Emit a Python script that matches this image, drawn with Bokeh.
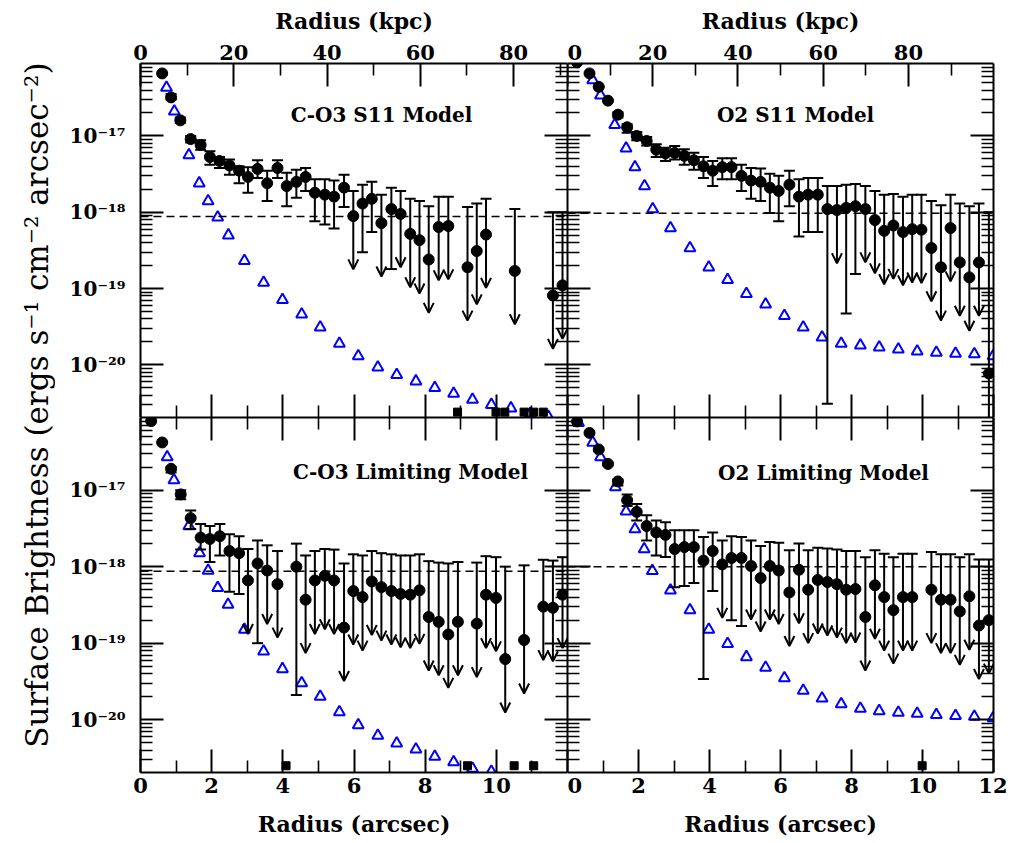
import math
from bokeh.plotting import figure
from bokeh.models import (Range1d, LogScale, LinearAxis, FixedTicker, CustomJSTickFormatter,
                          ColumnDataSource, Arrow, OpenHead, Span, Label)
from bokeh.layouts import row, column
from bokeh.embed import file_html
from bokeh.resources import INLINE

FONT = "DejaVu Serif"

# ---------------- axis settings ----------------
Y_MIN, Y_MAX = 2.04e-21, 8.9e-17
Y_MAJOR = [1e-20, 1e-19, 1e-18, 1e-17]
Y_MINOR = [k * 10.0 ** e for e in range(-22, -16) for k in range(2, 10)]
X_MAJOR = [0, 2, 4, 6, 8, 10, 12]
X_MINOR = [1, 3, 5, 7, 9, 11]
KPC_MAJOR = [0, 20, 40, 60, 80, 100]
KPC_MINOR = [10, 30, 50, 70, 90]
KPC_PER_ARCSEC_LEFT = 7.63
KPC_PER_ARCSEC_RIGHT = 8.33
UL_ARROW_FACTOR = 0.2

# ---------------- C-O3 S11 Model (top left) ----------------
tl_det_r = [0.61, 0.86, 1.12, 1.41, 1.69, 1.95, 2.22, 2.50, 2.77, 3.02, 3.29, 3.56, 3.85, 4.11,
            4.38, 4.64, 4.90, 5.18, 5.44, 5.72, 6.24, 6.50, 7.05]
tl_det_v = [6.6e-17, 3.2e-17, 1.6e-17, 9.1e-18, 7.6e-18, 5.3e-18, 4.7e-18, 4.1e-18, 3.5e-18, 2.9e-18,
            3.7e-18, 2.4e-18, 3.8e-18, 2.2e-18, 2.5e-18, 2.9e-18, 1.8e-18, 1.7e-18, 1.6e-18, 2.1e-18,
            1.3e-18, 1.5e-18, 1.1e-18]
tl_det_hi = [6.6e-17, 3.55e-17, 1.74e-17, 1.0e-17, 8.8e-18, 6.3e-18, 5.3e-18, 4.9e-18, 4.0e-18, 3.9e-18,
             4.8e-18, 3.5e-18, 4.8e-18, 3.3e-18, 3.6e-18, 3.8e-18, 2.7e-18, 2.7e-18, 2.6e-18, 3.1e-18,
             2.3e-18, 2.5e-18, 2.1e-18]
tl_det_lo = [6.6e-17, 3.0e-17, 1.49e-17, 8.2e-18, 6.6e-18, 4.2e-18, 3.8e-18, 3.1e-18, 2.4e-18, 1.8e-18,
             2.8e-18, 1.4e-18, 2.8e-18, 1.2e-18, 1.55e-18, 1.9e-18, 7.6e-19, 6.9e-19, 6.1e-19, 1.17e-18,
             3.0e-19, 5.5e-19, 1.8e-19]
tl_ul_r = [5.98, 6.77, 7.31, 7.58, 7.84, 8.10, 8.38, 8.65, 9.19, 9.45, 9.71, 10.52, 11.59, 11.86]
tl_ul_v = [8.9e-19, 7.2e-19, 9.5e-19, 5.2e-19, 4.3e-19, 2.4e-19, 6.4e-19, 6.6e-19, 1.9e-19, 3.1e-19,
           5.1e-19, 1.7e-19, 8.1e-20, 1.1e-19]
tl_ul_hi = [1.9e-18, 1.7e-18, 1.9e-18, 1.5e-18, 1.4e-18, 1.2e-18, 1.6e-18, 1.6e-18, 1.17e-18, 1.3e-18,
            1.5e-18, 1.1e-18, 1.0e-18, 1.0e-18]
tl_mod_r = [0.73, 0.95, 1.36, 1.65, 1.90, 2.17, 2.47, 2.92, 3.46, 3.99, 4.53, 5.05, 5.59, 6.12, 6.67,
            7.20, 7.74, 8.27, 8.80, 9.33, 9.86, 10.41, 10.95, 11.46]
tl_mod_v = [4.3e-17, 2.1e-17, 5.6e-18, 2.4e-18, 1.4e-18, 8.6e-19, 5.0e-19, 2.3e-19, 1.2e-19, 7.1e-20,
            4.6e-20, 3.1e-20, 1.9e-20, 1.3e-20, 9.3e-21, 7.4e-21, 6.1e-21, 5.0e-21, 4.2e-21, 3.5e-21,
            3.0e-21, 2.7e-21, 2.3e-21, 2.1e-21]
tl_neg_r = [8.91, 9.99, 10.24, 10.78, 11.05, 11.32]
tl_neg_v = [2.4e-21, 2.4e-21, 2.4e-21, 2.4e-21, 2.4e-21, 2.4e-21]
tl_limit = 8.8e-19

# ---------------- O2 S11 Model (top right) ----------------
tr_det_r = [0.27, 0.62, 0.88, 1.14, 1.42, 1.68, 1.95, 2.23, 2.50, 2.76, 3.02, 3.29, 3.56, 3.83, 4.09,
            4.36, 4.62, 4.90, 5.17, 5.44, 5.70, 5.95, 6.25, 6.52, 6.78, 7.05, 7.32, 7.85, 8.11, 11.87]
tr_det_v = [9.2e-17, 6.6e-17, 4.4e-17, 2.9e-17, 1.9e-17, 1.3e-17, 1.0e-17, 8.6e-18, 6.6e-18, 5.9e-18,
            6.0e-18, 5.5e-18, 4.8e-18, 4.0e-18, 3.5e-18, 3.9e-18, 3.9e-18, 3.0e-18, 2.6e-18, 2.5e-18,
            2.1e-18, 1.9e-18, 2.3e-18, 1.6e-18, 1.7e-18, 1.7e-18, 1.1e-18, 1.14e-18, 1.2e-18, 7.7e-21]
tr_det_hi = [9.2e-17, 6.6e-17, 4.4e-17, 2.9e-17, 2.05e-17, 1.42e-17, 1.13e-17, 9.7e-18, 7.8e-18, 7.0e-18,
             7.4e-18, 6.7e-18, 6.0e-18, 5.3e-18, 4.7e-18, 5.1e-18, 5.1e-18, 4.2e-18, 3.8e-18, 3.75e-18,
             3.2e-18, 3.0e-18, 3.5e-18, 2.7e-18, 2.8e-18, 2.8e-18, 2.2e-18, 2.3e-18, 2.35e-18, 1.0e-18]
tr_det_lo = [9.2e-17, 6.6e-17, 4.4e-17, 2.9e-17, 1.75e-17, 1.1e-17, 8.8e-18, 7.5e-18, 5.3e-18, 4.7e-18,
             4.9e-18, 4.2e-18, 3.6e-18, 2.8e-18, 2.2e-18, 2.7e-18, 2.7e-18, 1.9e-18, 1.5e-18, 1.4e-18,
             9.8e-19, 7.6e-19, 1.2e-18, 4.8e-19, 5.5e-19, 5.5e-19, 3.1e-21, 4.7e-20, 1.55e-19, 1.0e-22]
tr_ul_r = [7.59, 8.39, 8.66, 8.92, 9.18, 9.45, 9.71, 9.97, 10.25, 10.52, 10.79, 11.05, 11.32, 11.59]
tr_ul_v = [1.07e-18, 1.1e-18, 7.9e-19, 5.7e-19, 6.7e-19, 5.5e-19, 6.0e-19, 5.9e-19, 3.4e-19, 1.9e-19,
           6.2e-19, 2.2e-19, 1.4e-19, 2.2e-19]
tr_ul_hi = [2.2e-18, 2.2e-18, 1.9e-18, 1.7e-18, 1.74e-18, 1.6e-18, 1.7e-18, 1.7e-18, 1.4e-18, 1.23e-18,
            1.7e-18, 1.3e-18, 1.2e-18, 1.3e-18]
tr_mod_r = [0.71, 0.93, 1.33, 1.65, 1.90, 2.17, 2.40, 2.90, 3.45, 3.98, 4.51, 5.04, 5.58, 6.11, 6.64,
            7.17, 7.71, 8.25, 8.78, 9.32, 9.85, 10.39, 10.93, 11.46, 11.99]
tr_mod_v = [5.4e-17, 3.4e-17, 1.4e-17, 6.9e-18, 3.9e-18, 2.2e-18, 1.1e-18, 6.2e-19, 3.4e-19, 1.9e-19,
            1.3e-19, 8.5e-20, 6.2e-20, 4.4e-20, 3.1e-20, 2.3e-20, 1.9e-20, 1.8e-20, 1.7e-20, 1.6e-20,
            1.5e-20, 1.45e-20, 1.4e-20, 1.38e-20, 1.3e-20]
tr_neg_r = []
tr_neg_v = []
tr_limit = 9.7e-19

# ---------------- C-O3 Limiting Model (bottom left) ----------------
bl_det_r = [0.30, 0.61, 0.86, 1.13, 1.41, 1.69, 1.95, 2.23, 2.50, 2.77, 3.29, 4.38]
bl_det_v = [8.0e-17, 4.2e-17, 1.9e-17, 8.8e-18, 4.3e-18, 2.4e-18, 2.3e-18, 2.5e-18, 1.6e-18, 1.5e-18,
            1.1e-18, 1.0e-18]
bl_det_hi = [8.0e-17, 4.2e-17, 2.0e-17, 1.0e-17, 5.4e-18, 3.6e-18, 3.4e-18, 3.6e-18, 2.65e-18, 2.5e-18,
             2.2e-18, 2.0e-18]
bl_det_lo = [8.0e-17, 4.2e-17, 1.7e-17, 7.6e-18, 3.1e-18, 1.67e-18, 1.15e-18, 1.4e-18, 4.7e-19, 4.4e-19,
             1.0e-19, 2.1e-20]
bl_ul_r = [3.02, 3.56, 3.85, 4.64, 4.90, 5.18, 5.44, 5.72, 5.98, 6.24, 6.50, 6.77, 7.05, 7.31, 7.58,
           7.84, 8.10, 8.38, 8.65, 8.92, 9.45, 9.71, 9.99, 10.25, 10.78, 11.32, 11.59, 11.86]
bl_ul_v = [6.6e-19, 8.9e-19, 5.9e-19, 3.7e-19, 6.6e-19, 7.6e-19, 6.6e-19, 1.6e-19, 4.8e-19, 4.0e-19,
           6.4e-19, 5.4e-19, 4.8e-19, 4.4e-19, 4.3e-19, 4.9e-19, 2.2e-19, 1.9e-19, 1.3e-19, 1.9e-19,
           1.8e-19, 4.3e-19, 3.9e-19, 6.2e-20, 1.1e-19, 3.0e-19, 2.9e-19, 4.3e-19]
bl_ul_hi = [1.7e-18, 1.9e-18, 1.6e-18, 1.4e-18, 1.6e-18, 1.7e-18, 1.67e-18, 1.1e-18, 1.45e-18, 1.4e-18,
            1.6e-18, 1.5e-18, 1.45e-18, 1.4e-18, 1.4e-18, 1.45e-18, 1.18e-18, 1.13e-18, 1.1e-18, 1.15e-18,
            1.13e-18, 1.37e-18, 1.33e-18, 1.0e-18, 1.04e-18, 1.23e-18, 1.2e-18, 1.33e-18]
bl_mod_r = [0.75, 0.94, 1.36, 1.66, 1.90, 2.17, 2.46, 2.92, 3.46, 3.99, 4.53, 5.05, 5.59, 6.12, 6.67,
            7.20, 7.74, 8.27, 8.80, 9.33, 9.86]
bl_mod_v = [2.7e-17, 1.35e-17, 3.4e-18, 1.5e-18, 8.9e-19, 5.3e-19, 3.2e-19, 1.5e-19, 7.8e-20, 4.6e-20,
            3.0e-20, 2.0e-20, 1.26e-20, 8.5e-21, 6.2e-21, 4.9e-21, 4.1e-21, 3.3e-21, 2.8e-21, 2.3e-21,
            2.1e-21]
bl_neg_r = [4.09, 9.19, 10.50, 11.05]
bl_neg_v = [2.5e-21, 2.5e-21, 2.5e-21, 2.5e-21]
bl_limit = 8.7e-19

# ---------------- O2 Limiting Model (bottom right) ----------------
br_det_r = [0.27, 0.62, 0.88, 1.14, 1.42, 1.68, 1.95, 2.23, 2.50, 2.76, 3.02, 3.29, 3.56, 3.83, 4.09,
            4.62, 4.90]
br_det_v = [7.9e-17, 5.6e-17, 3.4e-17, 2.2e-17, 1.3e-17, 7.4e-18, 5.2e-18, 3.4e-18, 2.8e-18, 2.6e-18,
            1.7e-18, 1.8e-18, 1.8e-18, 1.2e-18, 1.6e-18, 1.3e-18, 1.3e-18]
br_det_hi = [7.9e-17, 5.6e-17, 3.5e-17, 2.3e-17, 1.38e-17, 8.8e-18, 6.6e-18, 4.7e-18, 4.0e-18, 3.8e-18,
             3.0e-18, 3.0e-18, 3.0e-18, 2.45e-18, 2.8e-18, 2.5e-18, 2.45e-18]
br_det_lo = [7.9e-17, 5.6e-17, 3.3e-17, 2.1e-17, 1.15e-17, 6.2e-18, 4.0e-18, 2.2e-18, 1.4e-18, 1.34e-18,
             5.4e-19, 5.6e-19, 6.1e-19, 3.4e-20, 4.8e-19, 2.0e-19, 1.67e-19]
br_ul_r = [4.36, 5.17, 5.44, 5.70, 5.95, 6.25, 6.52, 6.78, 7.05, 7.32, 7.59, 7.85, 8.11, 8.39, 8.66,
           8.92, 9.18, 9.45, 9.71, 10.25, 10.52, 10.79, 11.05, 11.32, 11.59, 11.87]
br_ul_v = [1.07e-18, 1.02e-18, 7.1e-19, 1.02e-18, 8.9e-19, 4.6e-19, 9.1e-19, 5.0e-19, 6.7e-19, 6.3e-19,
           5.9e-19, 5.0e-19, 5.1e-19, 2.2e-19, 5.7e-19, 4.0e-19, 2.7e-19, 4.0e-19, 4.0e-19, 5.0e-19,
           3.7e-19, 3.7e-19, 2.6e-19, 4.1e-19, 1.7e-19, 2.0e-19]
br_ul_hi = [2.2e-18, 2.2e-18, 1.86e-18, 2.1e-18, 2.05e-18, 1.64e-18, 2.0e-18, 1.64e-18, 1.77e-18, 1.73e-18,
            1.67e-18, 1.6e-18, 1.6e-18, 1.33e-18, 1.64e-18, 1.47e-18, 1.33e-18, 1.47e-18, 1.47e-18, 1.55e-18,
            1.45e-18, 1.45e-18, 1.33e-18, 1.45e-18, 1.24e-18, 1.24e-18]
br_mod_r = [0.31, 0.71, 0.93, 1.35, 1.65, 1.90, 2.16, 2.39, 2.90, 3.45, 3.98, 4.51, 5.04, 5.58, 6.11,
            6.64, 7.17, 7.71, 8.25, 8.78, 9.32, 9.85, 10.39, 10.93, 11.46, 11.99]
br_mod_v = [7.6e-17, 4.2e-17, 2.7e-17, 1.1e-17, 5.3e-18, 3.1e-18, 1.7e-18, 8.8e-19, 4.9e-19, 2.7e-19,
            1.5e-19, 9.8e-20, 6.6e-20, 4.8e-20, 3.5e-20, 2.4e-20, 1.9e-20, 1.6e-20, 1.4e-20, 1.3e-20,
            1.24e-20, 1.2e-20, 1.16e-20, 1.12e-20, 1.1e-20, 1.05e-20]
br_neg_r = [9.99]
br_neg_v = [2.5e-21]
br_limit = 1.0e-18

SUP_FORMATTER_CODE = """
const sup = {"0":"\u2070","1":"\u00b9","2":"\u00b2","3":"\u00b3","4":"\u2074","5":"\u2075",
             "6":"\u2076","7":"\u2077","8":"\u2078","9":"\u2079","-":"\u207b"};
const e = Math.round(Math.log10(tick));
let s = "";
for (const c of String(e)) { s += sup[c]; }
return "10" + s;
"""

# layout geometry (pixels)
LAB_W = 55
LEFT_B = 85
FRAME_WL = 427
FRAME_WR = 426
RIGHT_B = 14
TOP_B = 63
FRAME_HT = 354
FRAME_HB = 355
BOTTOM_B = 70


def style_axis(ax, show, font_size="21px", standoff=2):
    ax.axis_line_width = 2
    ax.axis_line_color = "black"
    ax.major_tick_line_width = 2
    ax.minor_tick_line_width = 1.6
    ax.major_tick_line_color = "black"
    ax.minor_tick_line_color = "black"
    ax.major_tick_in = 23
    ax.major_tick_out = 0
    ax.minor_tick_in = 12
    ax.minor_tick_out = 0
    ax.major_label_text_font = FONT
    ax.major_label_text_font_style = "bold"
    ax.major_label_text_color = "black"
    ax.axis_label_text_font = FONT
    ax.axis_label_text_font_style = "bold"
    ax.axis_label_text_font_size = "22px"
    ax.axis_label_text_color = "black"
    if show:
        ax.major_label_text_font_size = font_size
        ax.major_label_standoff = standoff
    else:
        ax.formatter = CustomJSTickFormatter(code="return '';")
        ax.major_label_text_font_size = "0px"
        ax.major_label_standoff = 0


def make_panel(col, rowpos, title, tx, ty, det_r, det_v, det_lo, det_hi, ul_r, ul_v, ul_hi,
               mod_r, mod_v, neg_r, neg_v, limit):
    left = col == 0
    top = rowpos == 0
    width = (LEFT_B + FRAME_WL) if left else (FRAME_WR + RIGHT_B)
    height = (TOP_B + FRAME_HT) if top else (FRAME_HB + BOTTOM_B)
    p = figure(width=width, height=height, x_range=Range1d(0, 12), y_range=Range1d(Y_MIN, Y_MAX),
               x_axis_type=None, y_axis_type=None, output_backend="svg", toolbar_location=None,
               title=None,
               min_border_left=LEFT_B if left else 0, min_border_right=0 if left else RIGHT_B,
               min_border_top=TOP_B if top else 0, min_border_bottom=0 if top else BOTTOM_B)
    p.y_scale = LogScale()
    p.outline_line_color = None
    p.background_fill_color = "white"
    p.border_fill_color = "white"

    # y axes
    yl = LinearAxis(ticker=FixedTicker(ticks=Y_MAJOR, minor_ticks=Y_MINOR))
    style_axis(yl, left, font_size="20px", standoff=15)
    if left:
        yl.formatter = CustomJSTickFormatter(code=SUP_FORMATTER_CODE)
    p.add_layout(yl, "left")
    yr = LinearAxis(ticker=FixedTicker(ticks=Y_MAJOR, minor_ticks=Y_MINOR))
    style_axis(yr, False)
    p.add_layout(yr, "right")

    # bottom axis (arcsec)
    xb = LinearAxis(ticker=FixedTicker(ticks=X_MAJOR, minor_ticks=X_MINOR))
    style_axis(xb, not top, font_size="21px", standoff=5)
    if not top:
        xb.axis_label = "Radius (arcsec)"
        xb.axis_label_standoff = 15
        if left:
            xb.major_label_overrides = {12: ""}
    p.add_layout(xb, "below")

    # top axis
    if top:
        kscale = KPC_PER_ARCSEC_LEFT if left else KPC_PER_ARCSEC_RIGHT
        p.extra_x_ranges = {"kpc": Range1d(0, 12 * kscale)}
        xt = LinearAxis(x_range_name="kpc", ticker=FixedTicker(ticks=KPC_MAJOR, minor_ticks=KPC_MINOR))
        style_axis(xt, True, font_size="21px", standoff=4)
        xt.axis_label = "Radius (kpc)"
        xt.axis_label_standoff = 8
    else:
        xt = LinearAxis(ticker=FixedTicker(ticks=X_MAJOR, minor_ticks=X_MINOR))
        style_axis(xt, False)
    p.add_layout(xt, "above")

    # detection limit
    p.add_layout(Span(location=limit, dimension="width", line_color="black", line_width=1.5,
                      line_dash="8 5"))

    # model (blue open triangles)
    p.scatter(mod_r, mod_v, marker="triangle", size=11, fill_color=None, line_color="#0000ff",
              line_width=2)

    # error bars for detections
    p.segment(det_r, det_lo, det_r, det_hi, line_color="black", line_width=2)
    p.scatter(det_r, det_hi, marker="dash", size=11, line_color="black", line_width=2)
    p.scatter(det_r, det_lo, marker="dash", size=11, line_color="black", line_width=2)

    # upper limits
    tips = [v * UL_ARROW_FACTOR for v in ul_v]
    src = ColumnDataSource(dict(x=ul_r, top=ul_hi, tip=tips))
    p.scatter(ul_r, ul_hi, marker="dash", size=11, line_color="black", line_width=2)
    p.add_layout(Arrow(end=OpenHead(size=10, line_width=2, line_color="black"),
                       x_start="x", y_start="top", x_end="x", y_end="tip", source=src,
                       line_color="black", line_width=2))

    # data points
    p.scatter(det_r + ul_r, det_v + ul_v, marker="circle", size=11, fill_color="black",
              line_color="black")
    # negative values at floor
    if neg_r:
        p.scatter(neg_r, neg_v, marker="square", size=8, fill_color="black", line_color="black")

    p.add_layout(Label(x=tx, y=ty, x_units="screen", y_units="screen", text=title,
                       text_font=FONT, text_font_style="bold", text_font_size="20px",
                       text_align="center", text_baseline="middle", text_color="black"))
    return p


tl = make_panel(0, 0, "C-O3  S11  Model", 248, 303, tl_det_r, tl_det_v, tl_det_lo, tl_det_hi,
                tl_ul_r, tl_ul_v, tl_ul_hi, tl_mod_r, tl_mod_v, tl_neg_r, tl_neg_v, tl_limit)
tr = make_panel(1, 0, "O2  S11  Model", 235, 303, tr_det_r, tr_det_v, tr_det_lo, tr_det_hi,
                tr_ul_r, tr_ul_v, tr_ul_hi, tr_mod_r, tr_mod_v, tr_neg_r, tr_neg_v, tr_limit)
bl = make_panel(0, 1, "C-O3  Limiting  Model", 277, 301, bl_det_r, bl_det_v, bl_det_lo, bl_det_hi,
                bl_ul_r, bl_ul_v, bl_ul_hi, bl_mod_r, bl_mod_v, bl_neg_r, bl_neg_v, bl_limit)
br = make_panel(1, 1, "O2  Limiting  Model", 263, 300, br_det_r, br_det_v, br_det_lo, br_det_hi,
                br_ul_r, br_ul_v, br_ul_hi, br_mod_r, br_mod_v, br_neg_r, br_neg_v, br_limit)

TOTAL_H = TOP_B + FRAME_HT + FRAME_HB + BOTTOM_B
lab = figure(width=LAB_W, height=TOTAL_H, x_range=Range1d(0, 1), y_range=Range1d(0, 1),
             x_axis_type=None, y_axis_type=None, output_backend="svg", toolbar_location=None,
             title=None, min_border_left=0, min_border_right=0, min_border_top=0, min_border_bottom=0)
lab.outline_line_color = None
lab.add_layout(Label(x=36, y=TOTAL_H - 380, x_units="screen", y_units="screen",
                     text="Surface  Brightness  (ergs  s\u207b\u00b9  cm\u207b\u00b2  arcsec\u207b\u00b2)",
                     angle=math.pi / 2, text_align="center", text_baseline="middle",
                     text_font=FONT, text_font_size="31px", text_color="black"))

layout = row(lab, column(row(tl, tr), row(bl, br)))

html = file_html(layout, INLINE, title="Surface brightness profiles")
with open("out.html", "w", encoding="utf-8") as f:
    f.write(html)
